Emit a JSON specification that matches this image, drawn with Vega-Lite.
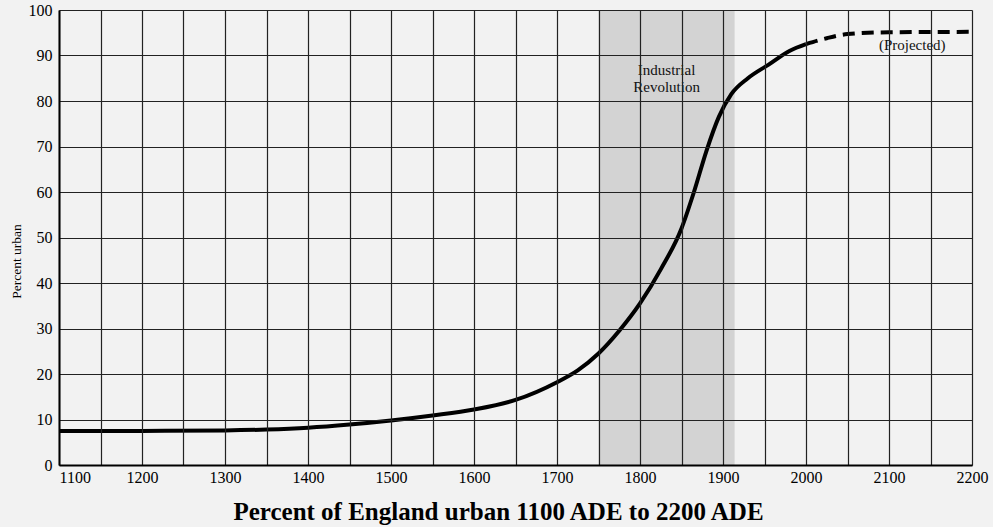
{
  "$schema": "https://vega.github.io/schema/vega-lite/v6.json",
  "autosize": {"type": "none"},
  "width": 913,
  "height": 455,
  "padding": {"left": 59, "top": 10, "right": 21, "bottom": 62},
  "background": "#f2f2f2",
  "config": {
    "view": {"stroke": null},
    "font": "Liberation Serif",
    "axis": {
      "labelFont": "Liberation Serif",
      "titleFont": "Liberation Serif",
      "labelColor": "#000",
      "titleColor": "#000",
      "labelFontSize": 16,
      "ticks": false,
      "grid": true,
      "gridColor": "#222222",
      "gridWidth": 1.2,
      "gridOpacity": 1,
      "domainColor": "#000",
      "domainWidth": 2,
      "zindex": 1
    }
  },
  "datasets": {
    "curve": [
      {"year": 1100, "pct": 7.5, "seg": "actual"},
      {"year": 1200, "pct": 7.5, "seg": "actual"},
      {"year": 1300, "pct": 7.6, "seg": "actual"},
      {"year": 1350, "pct": 7.8, "seg": "actual"},
      {"year": 1400, "pct": 8.2, "seg": "actual"},
      {"year": 1450, "pct": 8.9, "seg": "actual"},
      {"year": 1500, "pct": 9.8, "seg": "actual"},
      {"year": 1550, "pct": 10.9, "seg": "actual"},
      {"year": 1600, "pct": 12.2, "seg": "actual"},
      {"year": 1650, "pct": 14.3, "seg": "actual"},
      {"year": 1700, "pct": 18.2, "seg": "actual"},
      {"year": 1725, "pct": 20.8, "seg": "actual"},
      {"year": 1750, "pct": 24.5, "seg": "actual"},
      {"year": 1775, "pct": 29.5, "seg": "actual"},
      {"year": 1800, "pct": 35.5, "seg": "actual"},
      {"year": 1825, "pct": 43, "seg": "actual"},
      {"year": 1850, "pct": 52, "seg": "actual"},
      {"year": 1865, "pct": 60, "seg": "actual"},
      {"year": 1880, "pct": 69, "seg": "actual"},
      {"year": 1895, "pct": 76.5, "seg": "actual"},
      {"year": 1910, "pct": 81.5, "seg": "actual"},
      {"year": 1930, "pct": 85, "seg": "actual"},
      {"year": 1955, "pct": 88, "seg": "actual"},
      {"year": 1980, "pct": 91, "seg": "actual"},
      {"year": 2000, "pct": 92.5, "seg": "actual"},
      {"year": 2000, "pct": 92.5, "seg": "projected"},
      {"year": 2025, "pct": 93.8, "seg": "projected"},
      {"year": 2050, "pct": 94.7, "seg": "projected"},
      {"year": 2100, "pct": 95.1, "seg": "projected"},
      {"year": 2200, "pct": 95.2, "seg": "projected"}
    ],
    "band": [{"start": 1750, "end": 1914}],
    "notes": [
      {"year": 1832, "pct": 86.8, "label": "Industrial"},
      {"year": 1832, "pct": 83.1, "label": "Revolution"},
      {"year": 2128, "pct": 92.3, "label": "(Projected)"}
    ]
  },
  "layer": [
    {
      "data": {"name": "band"},
      "mark": {"type": "rect", "color": "#d3d3d3"},
      "encoding": {
        "x": {
          "field": "start", "type": "quantitative",
          "scale": {"domain": [1100, 2200], "nice": false, "zero": false},
          "axis": {
            "values": [1100, 1150, 1200, 1250, 1300, 1350, 1400, 1450, 1500, 1550, 1600, 1650, 1700, 1750, 1800, 1850, 1900, 1950, 2000, 2050, 2100, 2150, 2200],
            "labelExpr": "datum.value % 100 == 0 ? datum.value : ''",
            "labelAlign": {"expr": "datum.value == 1100 ? 'left' : 'center'"},
            "labelPadding": 4,
            "labelFlush": false,
            "labelOverlap": false,
            "grid": true,
            "zindex": 1,
            "title": "Percent of England urban 1100 ADE to 2200 ADE",
            "titleFontSize": 25,
            "titleFontWeight": "bold",
            "titlePadding": 14,
            "titleX": 439,
            "titleAlign": "center"
          }
        },
        "x2": {"field": "end"},
        "y": {"datum": 0, "type": "quantitative",
          "scale": {"domain": [0, 100], "nice": false},
          "axis": {
            "values": [0, 10, 20, 30, 40, 50, 60, 70, 80, 90, 100],
            "labelPadding": 7,
            "labelFlush": false,
            "grid": true,
            "zindex": 1,
            "title": "Percent urban",
            "titleFontSize": 13.5,
            "titleFontWeight": "normal",
            "titleX": -43,
            "titleY": 251,
            "titleBaseline": "middle",
            "titleAlign": "center",
            "titleAngle": -90
          }
        },
        "y2": {"datum": 100}
      }
    },
    {
      "data": {"name": "curve"},
      "transform": [{"filter": "datum.seg == 'actual'"}],
      "mark": {"type": "line", "color": "#000", "strokeWidth": 4, "interpolate": "monotone"},
      "encoding": {
        "x": {"field": "year", "type": "quantitative"},
        "y": {"field": "pct", "type": "quantitative"}
      }
    },
    {
      "data": {"name": "curve"},
      "transform": [{"filter": "datum.seg == 'projected'"}],
      "mark": {"type": "line", "color": "#000", "strokeWidth": 4, "strokeDash": [12, 7], "interpolate": "monotone"},
      "encoding": {
        "x": {"field": "year", "type": "quantitative"},
        "y": {"field": "pct", "type": "quantitative"}
      }
    },
    {
      "data": {"name": "notes"},
      "mark": {"type": "text", "font": "Liberation Serif", "fontSize": 15, "color": "#111", "align": "center", "baseline": "middle"},
      "encoding": {
        "x": {"field": "year", "type": "quantitative"},
        "y": {"field": "pct", "type": "quantitative"},
        "text": {"field": "label"}
      }
    }
  ]
}
